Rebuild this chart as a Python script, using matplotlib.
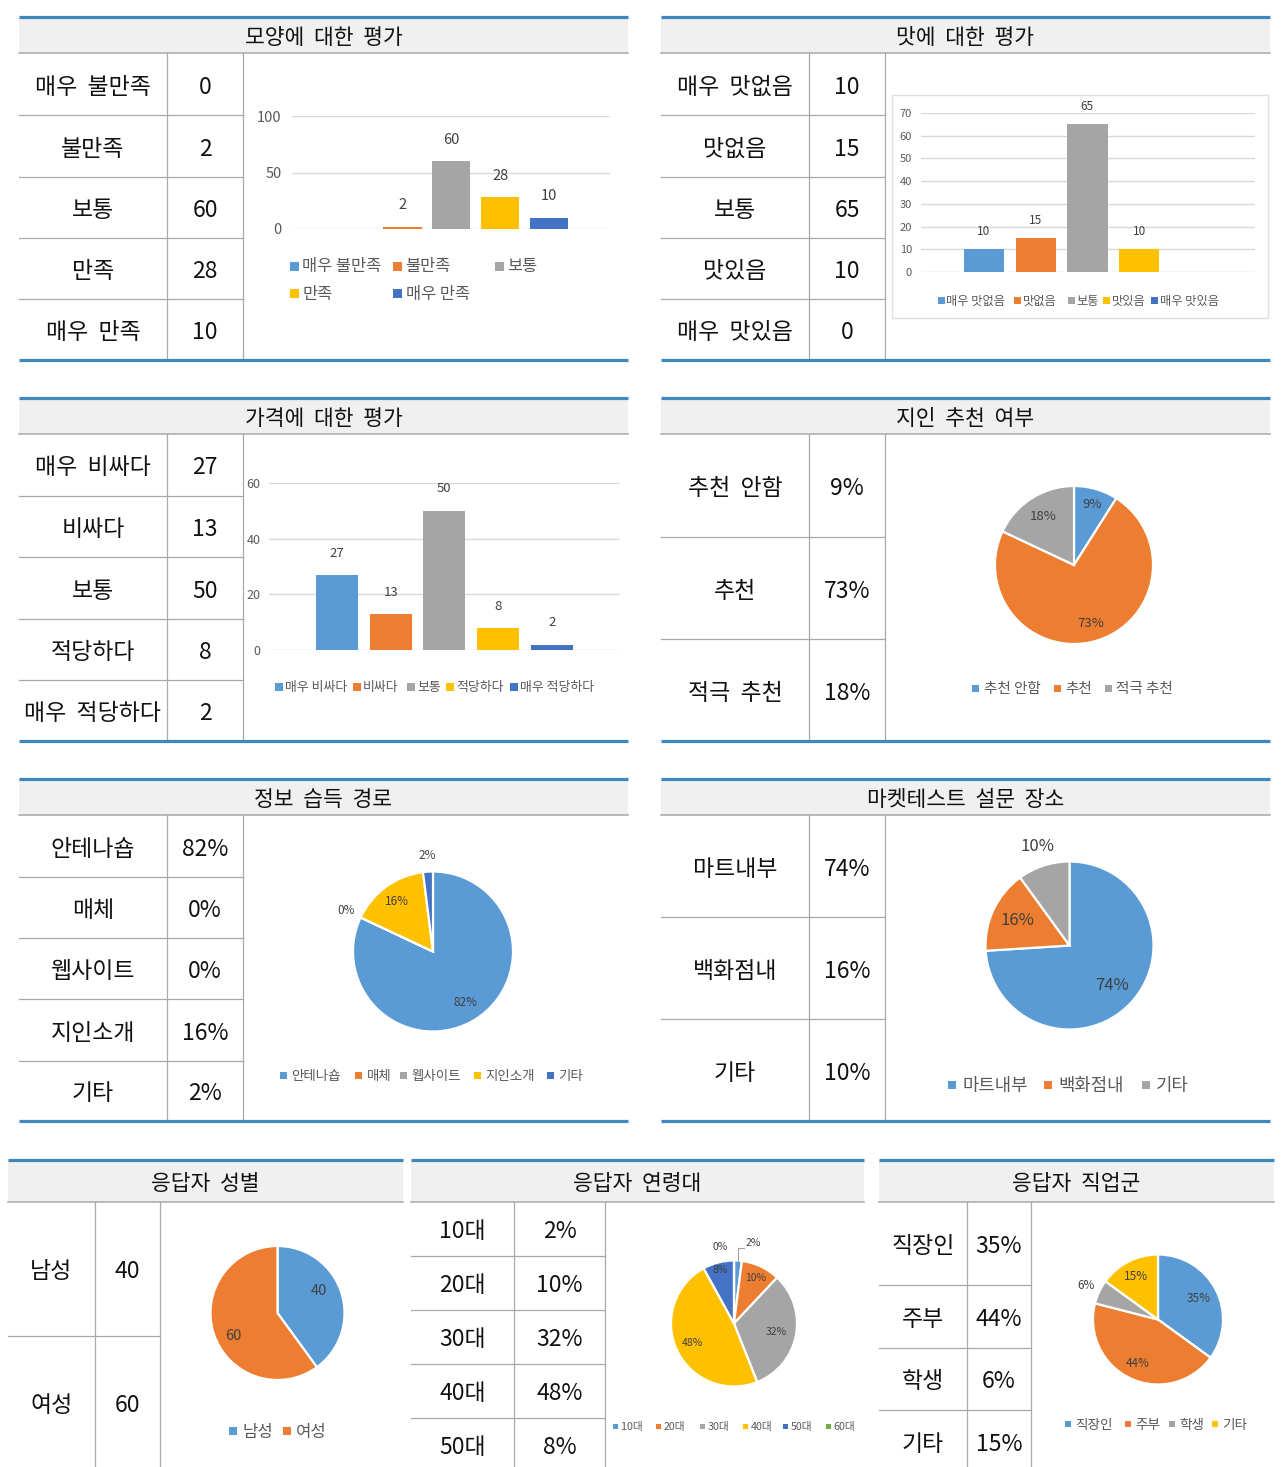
import matplotlib
matplotlib.use('Agg')
import matplotlib.pyplot as plt
from matplotlib.patches import Rectangle
import numpy as np

plt.rcParams['font.family'] = ['Noto Sans CJK KR', 'DejaVu Sans']

# ---------------- data ----------------
shape_title = '모양에  대한  평가'
shape_cats = ['매우 불만족', '불만족', '보통', '만족', '매우 만족']
shape_vals = [0, 2, 60, 28, 10]
shape_ticks = [0, 50, 100]

taste_title = '맛에  대한  평가'
taste_cats = ['매우 맛없음', '맛없음', '보통', '맛있음', '매우 맛있음']
taste_vals = [10, 15, 65, 10, 0]
taste_ticks = [0, 10, 20, 30, 40, 50, 60, 70]

price_title = '가격에  대한  평가'
price_cats = ['매우 비싸다', '비싸다', '보통', '적당하다', '매우 적당하다']
price_vals = [27, 13, 50, 8, 2]
price_ticks = [0, 20, 40, 60]

rec_title = '지인  추천  여부'
rec_cats = ['추천 안함', '추천', '적극 추천']
rec_vals = [9, 73, 18]

info_title = '정보  습득  경로'
info_cats = ['안테나숍', '매체', '웹사이트', '지인소개', '기타']
info_vals = [82, 0, 0, 16, 2]

place_title = '마켓테스트  설문  장소'
place_cats = ['마트내부', '백화점내', '기타']
place_vals = [74, 16, 10]

gender_title = '응답자  성별'
gender_cats = ['남성', '여성']
gender_vals = [40, 60]

age_title = '응답자  연령대'
age_cats = ['10대', '20대', '30대', '40대', '50대', '60대']
age_vals = [2, 10, 32, 48, 8, 0]

job_title = '응답자  직업군'
job_cats = ['직장인', '주부', '학생', '기타']
job_vals = [35, 44, 6, 15]

# ---------------- style ----------------
W, H = 1285, 1467
RULE = '#3f88bd'
HEAD = '#f0f0f0'
GRID = '#a8a8a8'
C = ['#5B9BD5', '#ED7D31', '#A5A5A5', '#FFC000', '#4472C4', '#70AD47']
TICKC = '#595959'
LBLC = '#404040'

fig = plt.figure(figsize=(W / 100, H / 100), dpi=100)
bg = fig.add_axes([0, 0, 1, 1])
bg.set_xlim(0, W)
bg.set_ylim(H, 0)
bg.axis('off')


def pax(x0, y0, x1, y1):
    return fig.add_axes([x0 / W, 1 - y1 / H, (x1 - x0) / W, (y1 - y0) / H])


def table(x0, c1, c2, x1, ytop, yhead, bounds, title, labels, values,
          fs=16.5, tfs=15.5, bottom_rule=True):
    bg.add_patch(Rectangle((x0, ytop), x1 - x0, yhead - ytop,
                           facecolor=HEAD, edgecolor='none', zorder=1))
    bg.plot([x0, x1], [ytop, ytop], color=RULE, lw=2.3,
            solid_capstyle='butt', zorder=3)
    bg.plot([x0, x1], [yhead, yhead], color=GRID, lw=1.1, zorder=3)
    yb = bounds[-1]
    if bottom_rule:
        bg.plot([x0, x1], [yb, yb], color=RULE, lw=2.3,
                solid_capstyle='butt', zorder=3)
    bg.text((x0 + x1) / 2, (ytop + yhead) / 2 + 3, title, ha='center',
            va='center', fontsize=tfs, color='#111111')
    for xc in (c1, c2):
        bg.plot([xc, xc], [yhead, min(yb, H)], color=GRID, lw=0.9, zorder=2)
    for yy in bounds[1:-1]:
        bg.plot([x0, c2], [yy, yy], color=GRID, lw=0.9, zorder=2)
    for i, (lab, val) in enumerate(zip(labels, values)):
        yc = (bounds[i] + bounds[i + 1]) / 2 + 3
        bg.text((x0 + c1) / 2, yc, lab.replace(' ', '  '), ha='center',
                va='center', fontsize=fs, color='#111111')
        bg.text((c1 + c2) / 2, yc, val, ha='center', va='center',
                fontsize=fs, color='#111111')


def legend(items, colors, xs, y, fs, ms, gap=3):
    for lab, col, x in zip(items, colors, xs):
        bg.add_patch(Rectangle((x - ms / 2, y - ms / 2), ms, ms,
                               facecolor=col, edgecolor='none', zorder=4))
        bg.text(x + ms / 2 + gap, y + 1, lab, ha='left', va='center',
                fontsize=fs, color=TICKC, zorder=4)


def bar_chart(box, xlim, ylim, ticks, vals, colors, tick_fs, lbl_fs,
              pad_pt, gap_pt, width=0.78):
    ax = pax(*box)
    x = np.arange(len(vals))
    ax.bar(x, vals, width=width, color=colors, zorder=3)
    ax.set_xlim(*xlim)
    ax.set_ylim(*ylim)
    ax.set_yticks(ticks)
    ax.set_yticklabels([str(t) for t in ticks])
    ax.set_xticks([])
    ax.yaxis.grid(True, color='#d9d9d9', lw=1, zorder=0)
    ax.set_axisbelow(True)
    for s in ax.spines.values():
        s.set_visible(False)
    ax.tick_params(axis='y', length=0, labelsize=tick_fs,
                   labelcolor=TICKC, pad=pad_pt)
    ax.patch.set_alpha(0)
    for xi, v in zip(x, vals):
        if v > 0:
            ax.annotate(str(v), (xi, v), xytext=(0, gap_pt),
                        textcoords='offset points', ha='center',
                        va='bottom', fontsize=lbl_fs, color=LBLC)
    return ax


def pie_chart(cx, cy, r, vals, colors, show, lr, fs, ang_off=None):
    ax = pax(cx - r, cy - r, cx + r, cy + r)
    wedges, _ = ax.pie(vals, colors=colors, startangle=90,
                       counterclock=False, radius=1,
                       wedgeprops=dict(edgecolor='white', linewidth=1.6))
    ax.set_xlim(-1, 1)
    ax.set_ylim(-1, 1)
    if ang_off is None:
        ang_off = [0] * len(vals)
    for w, v, s, rr, ao in zip(wedges, vals, show, lr, ang_off):
        a = np.deg2rad((w.theta1 + w.theta2) / 2 + ao)
        if s:
            ax.text(rr * np.cos(a), rr * np.sin(a),
                    f'{v}%' if s == 1 else str(v),
                    ha='center', va='center', fontsize=fs, color=LBLC)
    return ax, wedges


# ---------------- row 1 ----------------
r1 = [53, 115, 177, 238, 299, 360]
table(19, 167, 243, 628, 16.5, 53, r1, shape_title, shape_cats,
      [str(v) for v in shape_vals])
table(661, 809, 885, 1270, 16.5, 53, r1, taste_title, taste_cats,
      [str(v) for v in taste_vals])

# shape bar chart
sp = 48.8
bar_chart((292, 116, 610, 229), ((292 - 353.7) / sp, (610 - 353.7) / sp),
          (0, 100), shape_ticks, shape_vals, C[:5], 10.5, 10.5, 7.5, 10.5)
legend(shape_cats[:3], C[:3], [294, 397, 499], 266, 11.8, 9, gap=4)
legend(shape_cats[3:], C[3:5], [294, 397], 293, 11.8, 9, gap=4)

# taste bar chart
bg.add_patch(Rectangle((892, 95), 376, 223, fill=False,
                       edgecolor='#e0e0e0', lw=1))
sp = 51.7
bar_chart((921, 113, 1255, 272), ((921 - 984) / sp, (1255 - 984) / sp),
          (0, 70), taste_ticks, taste_vals, C[:5], 8, 8.5, 6.5, 8)
legend(taste_cats, C[:5], [941, 1017, 1071, 1106, 1154], 300, 8.8, 7, gap=2)

# ---------------- row 2 ----------------
r2 = [434, 496, 557, 619, 680, 741]
table(19, 167, 243, 628, 397.5, 434, r2, price_title, price_cats,
      [str(v) for v in price_vals])
table(661, 809, 885, 1270, 397.5, 434, [434, 537, 639, 741], rec_title,
      rec_cats, [f'{v}%' for v in rec_vals])

sp = 53.7
bar_chart((269, 482.7, 620, 650.3), ((269 - 337) / sp, (620 - 337) / sp),
          (0, 60), price_ticks, price_vals, C[:5], 9, 9.5, 6, 11)
legend(price_cats, C[:5], [279, 357, 411, 450, 514], 687, 9.3, 8, gap=2)

pie_chart(1074, 565, 79, rec_vals, C[:3], [1, 1, 1], [0.80, 0.77, 0.73], 9.5)
legend(rec_cats, C[:3], [975, 1057, 1108], 688, 10.5, 7, gap=5)

# ---------------- row 3 ----------------
r3 = [815, 877, 938, 999, 1061, 1121]
table(19, 167, 243, 628, 779, 815, r3, info_title, info_cats,
      [f'{v}%' for v in info_vals])
table(661, 809, 885, 1270, 779, 815, [815, 917, 1019, 1121], place_title,
      place_cats, [f'{v}%' for v in place_vals])

pie_chart(433, 951.5, 80, info_vals, C[:5], [1, 0, 1, 1, 1],
          [0.76, 1.2, 1.2, 0.77, 1.2], 8.5)
legend(info_cats, C[:5], [283, 358, 403, 477, 550], 1075, 9.7, 7, gap=5)

pie_chart(1069.5, 945.5, 84, place_vals, C[:3], [1, 1, 1],
          [0.70, 0.69, 1.24], 12)
legend(place_cats, C[:3], [952, 1048, 1146], 1085, 12.8, 8, gap=6)

# ---------------- row 4 ----------------
table(8, 95, 160, 403, 1160, 1202, [1202, 1336, 1470], gender_title,
      gender_cats, [str(v) for v in gender_vals], fs=16.5, bottom_rule=False)
table(411, 514, 605, 864, 1160, 1202, [1202, 1256, 1310, 1364, 1418, 1472],
      age_title, age_cats[:5], [f'{v}%' for v in age_vals[:5]],
      fs=16.5, bottom_rule=False)
table(879, 967, 1031, 1274, 1160, 1202, [1202, 1285, 1348, 1410, 1473],
      job_title, job_cats, [f'{v}%' for v in job_vals], fs=16.5,
      bottom_rule=False)

pie_chart(277.5, 1313, 67, gender_vals, C[:2], [2, 2], [0.70, 0.74], 10.5,
          ang_off=[10, 10])
legend(gender_cats, C[:2], [233, 287], 1431, 12, 8, gap=5)

ax_age, w_age = pie_chart(734, 1323.5, 63, age_vals, C[:6],
                          [0, 1, 1, 1, 1, 0],
                          [1.3, 0.79, 0.69, 0.73, 0.87, 1.24], 7.5)
a2 = np.deg2rad((w_age[0].theta1 + w_age[0].theta2) / 2)
ax_age.plot([np.cos(a2), np.cos(a2), 0.16],
            [np.sin(a2), 1.2, 1.2], color='#a0a0a0', lw=0.8, clip_on=False)
ax_age.text(0.30, 1.28, f'{age_vals[0]}%', ha='center', va='center',
            fontsize=7.5, color=LBLC)
a0 = np.deg2rad(w_age[5].theta1 + 10)
ax_age.text(1.24 * np.cos(a0), 1.24 * np.sin(a0), f'{age_vals[5]}%',
            ha='center', va='center', fontsize=7.5, color=LBLC)
legend(age_cats, C[:6], [615, 658, 702, 745, 785, 828], 1426, 7.7, 5, gap=3)

pie_chart(1158, 1319.5, 65, job_vals, C[:4], [1, 1, 1, 1],
          [0.70, 0.75, 1.22, 0.74], 8.5)
legend(job_cats, C[:4], [1068, 1128, 1172, 1215], 1424, 9.8, 6, gap=4)

fig.savefig('out.png', dpi=100)
